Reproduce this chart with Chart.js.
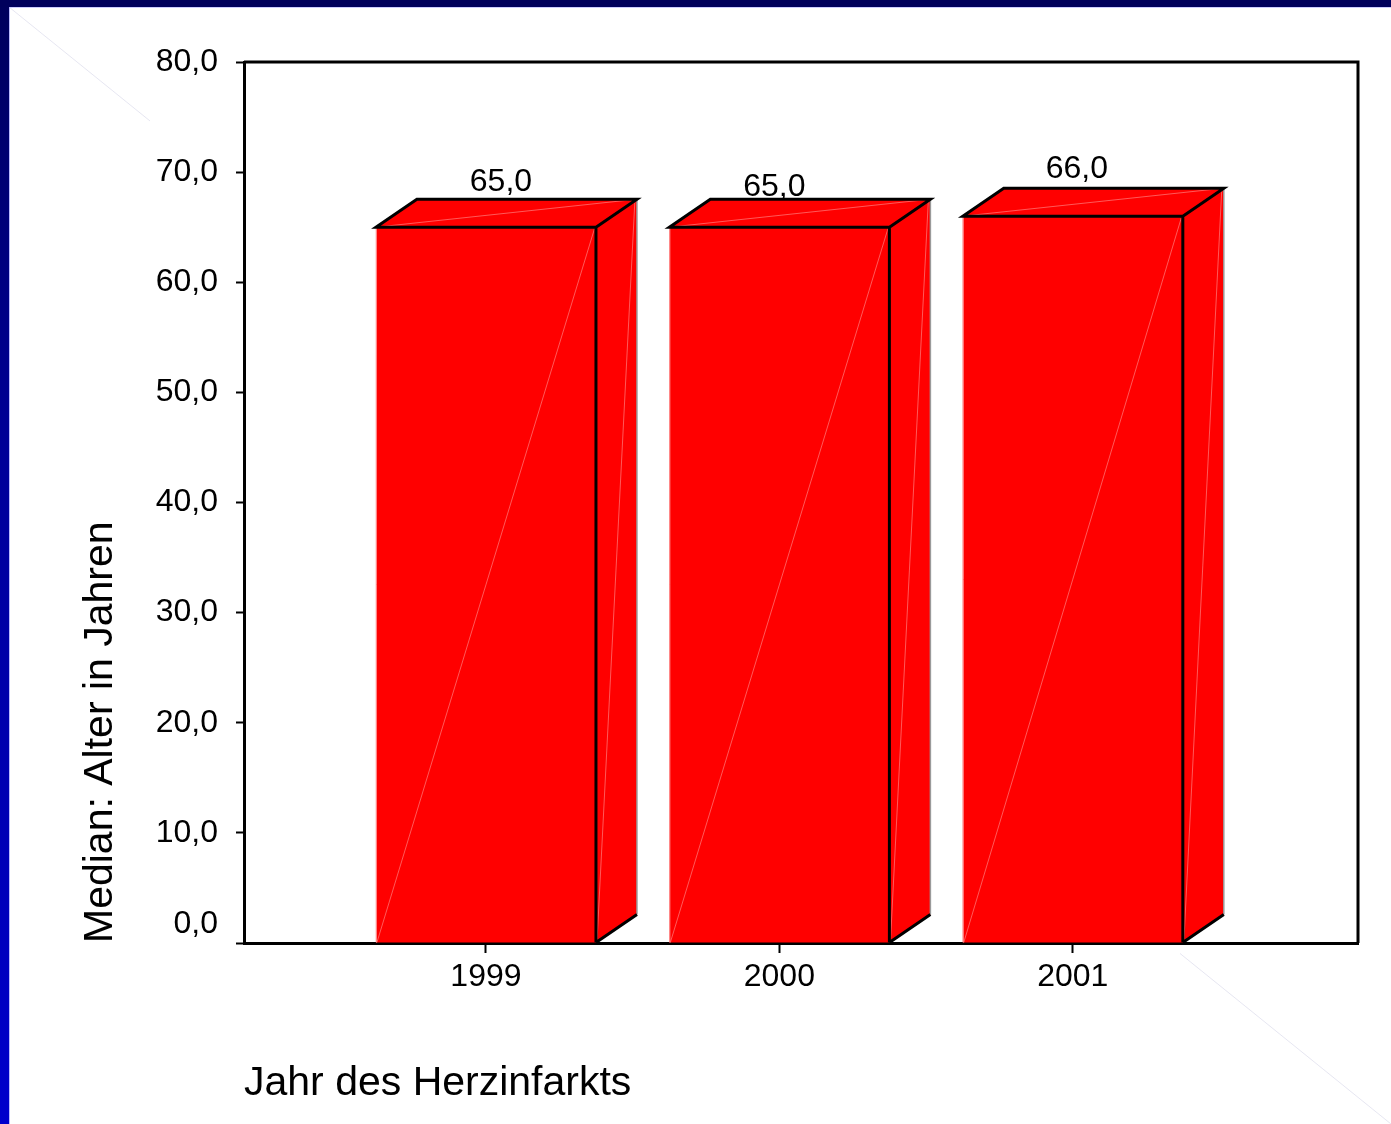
<!DOCTYPE html>
<html lang="de">
<head>
<meta charset="utf-8">
<title>Median: Alter in Jahren nach Jahr des Herzinfarkts</title>
<script src="https://cdn.jsdelivr.net/npm/chart.js@4/dist/chart.umd.min.js"></script>
<style>
  html, body { margin: 0; padding: 0; background: #fff; }
  canvas { display: block; }
</style>
</head>
<body>
<canvas id="chart" width="1391" height="1124"></canvas>
<script>
// Jahr des Herzinfarkts und Median des Alters (Jahre)
const years = [1999, 2000, 2001];
const medianAge = [65.0, 65.0, 66.0];
const yAxisMin = 0;
const yAxisMax = 80;
const yAxisStep = 10;

const FONT = "'Liberation Sans', Arial, Helvetica, sans-serif";
Chart.defaults.font.family = FONT;
Chart.defaults.color = '#000';

const fmt = v => v.toFixed(1).replace('.', ',');

// Slide background: white page with dark blue band on top and left
const slideFrame = {
  id: 'slideFrame',
  beforeDraw(chart) {
    const { ctx, width, height } = chart;
    ctx.save();
    ctx.fillStyle = '#ffffff';
    ctx.fillRect(0, 0, width, height);
    // faint decorative diagonal
    ctx.save();
    ctx.beginPath();
    ctx.rect(0, 0, 150, 125);
    ctx.rect(1180, 944, width - 1180, height - 944);
    ctx.clip();
    ctx.strokeStyle = 'rgba(200,200,225,0.45)';
    ctx.lineWidth = 1;
    ctx.beginPath();
    ctx.moveTo(9, 7);
    ctx.lineTo(width, height);
    ctx.stroke();
    ctx.restore();
    // left band
    const g = ctx.createLinearGradient(0, 0, 0, height);
    g.addColorStop(0, '#00005c');
    g.addColorStop(0.4, '#000098');
    g.addColorStop(1, '#0000cc');
    ctx.fillStyle = g;
    ctx.fillRect(0, 0, 9, height);
    ctx.fillStyle = 'rgba(170,170,255,0.8)';
    ctx.fillRect(9, 7, 1, height - 7);
    // top band
    ctx.fillStyle = '#00005c';
    ctx.fillRect(0, 0, width, 7);
    ctx.fillStyle = 'rgba(170,170,255,0.6)';
    ctx.fillRect(9, 7, width - 9, 1);
    ctx.restore();
  }
};

// Extrudes each bar into a box and writes its value above it
const box3d = {
  id: 'box3d',
  afterDatasetsDraw(chart, args, opts) {
    const { ctx, chartArea } = chart;
    const meta = chart.getDatasetMeta(0);
    const dx = opts.depthX, dy = opts.depthY;
    ctx.save();
    meta.data.forEach((bar, i) => {
      const { x, y, base, width } = bar.getProps(['x', 'y', 'base', 'width'], true);
      const l = x - width / 2, r = x + width / 2;

      // side face
      ctx.fillStyle = opts.color;
      ctx.beginPath();
      ctx.moveTo(r, base);
      ctx.lineTo(r + dx, base - dy);
      ctx.lineTo(r + dx, y - dy);
      ctx.lineTo(r, y);
      ctx.closePath();
      ctx.fill();

      // top face
      ctx.beginPath();
      ctx.moveTo(l, y);
      ctx.lineTo(l + dx, y - dy);
      ctx.lineTo(r + dx, y - dy);
      ctx.lineTo(r, y);
      ctx.closePath();
      ctx.fill();

      // faint facet seams
      ctx.strokeStyle = 'rgba(255,255,255,0.35)';
      ctx.lineWidth = 1;
      ctx.beginPath();
      ctx.moveTo(l + 1, base);
      ctx.lineTo(r - 1, y);
      ctx.moveTo(l, y);
      ctx.lineTo(r + dx, y - dy);
      ctx.moveTo(r + dx - 2, y - dy);
      ctx.lineTo(r + 1, base);
      ctx.stroke();

      // left edge highlight of front face
      ctx.strokeStyle = 'rgba(255,170,170,0.9)';
      ctx.beginPath();
      ctx.moveTo(l + 0.5, y);
      ctx.lineTo(l + 0.5, base);
      ctx.stroke();

      // back-right edge
      ctx.strokeStyle = '#9a9a9a';
      ctx.lineWidth = 1.5;
      ctx.beginPath();
      ctx.moveTo(r + dx, y - dy);
      ctx.lineTo(r + dx, base - dy);
      ctx.stroke();

      // outlines
      ctx.strokeStyle = '#000';
      ctx.lineWidth = 3;
      ctx.lineJoin = 'miter';
      ctx.beginPath();
      ctx.moveTo(r, base);
      ctx.lineTo(r, y);
      ctx.lineTo(l, y);
      ctx.lineTo(l + dx, y - dy);
      ctx.lineTo(r + dx, y - dy);
      ctx.lineTo(r, y);
      ctx.moveTo(r, base);
      ctx.lineTo(r + dx, base - dy);
      ctx.stroke();

      // value label
      const shift = opts.labelShift[i] || [0, 0];
      ctx.fillStyle = '#000';
      ctx.font = '32px ' + FONT;
      ctx.textAlign = 'center';
      ctx.textBaseline = 'alphabetic';
      ctx.fillText(fmt(medianAge[i]), x + shift[0], y - dy - 8 + shift[1]);
    });

    // plot frame: top and right sides
    ctx.strokeStyle = '#000';
    ctx.lineWidth = 3;
    ctx.beginPath();
    ctx.moveTo(chartArea.left, chartArea.top);
    ctx.lineTo(chartArea.right, chartArea.top);
    ctx.lineTo(chartArea.right, chartArea.bottom);
    ctx.stroke();
    ctx.restore();
  }
};

new Chart(document.getElementById('chart'), {
  type: 'bar',
  data: {
    datasets: [{
      label: 'Median: Alter in Jahren',
      data: years.map((yr, i) => ({ x: yr, y: medianAge[i] })),
      backgroundColor: '#ff0000',
      borderWidth: 0,
      barPercentage: 0.75,
      categoryPercentage: 1.0
    }]
  },
  options: {
    responsive: false,
    devicePixelRatio: 1,
    animation: false,
    layout: { padding: { top: 62, right: 33, left: 0, bottom: 0 } },
    plugins: {
      legend: { display: false },
      tooltip: { enabled: false },
      box3d: {
        depthX: 41,
        depthY: 28,
        color: '#ff0000',
        labelShift: [[15, 0], [-5, 5], [4, -2]]
      }
    },
    scales: {
      x: {
        type: 'linear',
        min: 1998.1755,
        max: 2001.972,
        offset: false,
        afterFit(scale) { scale.height = 181; },
        afterBuildTicks(scale) { scale.ticks = years.map(v => ({ value: v })); },
        grid: {
          offset: false,
          drawOnChartArea: false,
          drawTicks: true,
          tickLength: 10,
          tickWidth: 2,
          tickColor: '#000',
          color: '#000'
        },
        border: { display: true, color: '#000', width: 3 },
        ticks: {
          autoSkip: false,
          maxRotation: 0,
          padding: 5,
          font: { size: 32 },
          color: '#000',
          callback: v => String(v)
        },
        title: {
          display: true,
          text: 'Jahr des Herzinfarkts',
          align: 'start',
          font: { size: 41 },
          color: '#000',
          padding: { top: 4, bottom: 16 }
        }
      },
      y: {
        min: yAxisMin,
        max: yAxisMax,
        afterFit(scale) { scale.width = 244; },
        grid: {
          drawOnChartArea: false,
          drawTicks: true,
          tickLength: 8,
          tickWidth: 2,
          tickColor: '#000',
          color: '#000'
        },
        border: { display: true, color: '#000', width: 3 },
        ticks: {
          stepSize: yAxisStep,
          padding: 18,
          font: { size: 32 },
          color: '#000',
          callback: v => (v === 0 ? [fmt(v), ''] : fmt(v))
        },
        title: {
          display: true,
          text: 'Median: Alter in Jahren',
          align: 'start',
          font: { size: 41 },
          color: '#000',
          padding: { top: 76, bottom: 4 }
        }
      }
    }
  },
  plugins: [slideFrame, box3d]
});
</script>
</body>
</html>
